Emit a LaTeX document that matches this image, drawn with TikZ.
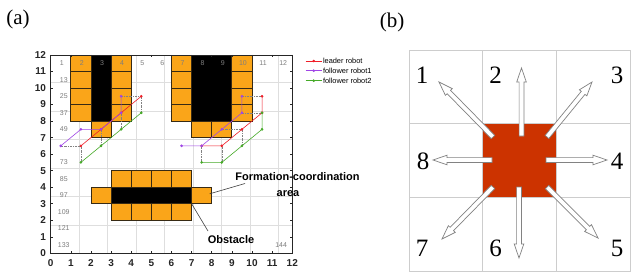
\documentclass[tikz,border=0pt]{standalone}
\usepackage{fontspec}
\setmainfont{Liberation Serif}
\setsansfont{Liberation Sans}
\usetikzlibrary{calc}
\definecolor{orng}{RGB}{250,165,25}
\definecolor{cellb}{RGB}{55,42,20}
\definecolor{leadc}{RGB}{240,30,40}
\definecolor{fonec}{RGB}{160,70,230}
\definecolor{ftwoc}{RGB}{70,170,40}
\definecolor{gridc}{RGB}{222,222,222}
\definecolor{axc}{RGB}{38,38,38}
\definecolor{numc}{RGB}{125,125,125}
\definecolor{redsq}{RGB}{204,51,0}
\definecolor{bgrid}{RGB}{205,205,205}
\definecolor{arrc}{RGB}{130,130,130}
\definecolor{connc}{RGB}{130,130,130}
\tikzset{
  cellbox/.style={fill=orng, draw=cellb, line width=0.8pt},
  blkbox/.style={fill=black, draw=cellb, line width=0.8pt},
  cellnum/.style={font=\sffamily\fontsize{7}{7}\selectfont, text=numc, inner sep=0pt},
  ticklab/.style={font=\sffamily\bfseries\fontsize{10}{10}\selectfont, text=axc, inner sep=0pt},
  leglab/.style={font=\sffamily\fontsize{7.4}{7.4}\selectfont, text=black, inner sep=0pt, anchor=west},
  annlab/.style={font=\sffamily\bfseries\fontsize{11}{11}\selectfont, inner sep=0pt},
  annline/.style={draw=black!75, line width=0.6pt},
  robotpath/.style={draw=#1, line width=0.6pt, mark=*, mark size=1pt, mark options={fill=#1, draw=#1}},
  connline/.style={draw=connc, line width=0.45pt, dash pattern=on 2pt off 1pt on 0.6pt off 1pt},
  panellab/.style={font=\fontsize{21}{21}\selectfont, inner sep=0pt},
  dirlab/.style={font=\fontsize{25}{25}\selectfont, inner sep=0pt},
  hollowarrow/.style={draw=arrc, fill=white, line width=0.7pt, line join=miter},
}
\newcommand\hollowarr[2]{%
  \coordinate (hb) at ($(#2)!14pt!(#1)$);
  \draw[hollowarrow] ($(#1)!2.4pt!90:(#2)$) -- ($(hb)!2.4pt!-90:(#1)$) -- ($(hb)!4.8pt!-90:(#1)$) -- (#2)
     -- ($(hb)!4.8pt!90:(#1)$) -- ($(hb)!2.4pt!90:(#1)$) -- ($(#1)!2.4pt!-90:(#2)$) -- cycle;}
\begin{document}
\begin{tikzpicture}[x=1pt, y=-1pt]
\useasboundingbox (0,0) rectangle (637,276);
\fill[white] (0,0) rectangle (637,276);
% ---------- panel labels
\node[panellab] (pa) at (18,19) {(a)};
\node[panellab] (pb) at (392,22) {(b)};
% ---------- panel (a)
\begin{scope}[shift={(50.7pt,-253.3pt)}, x=20.13pt, y=16.53pt]
  \draw[gridc, line width=0.5pt] (0,0) grid (12,12);
  % orange cells
  \foreach \yy in {8,...,11} {
    \draw[cellbox] (1,\yy) rectangle ++(1,1);
    \draw[cellbox] (3,\yy) rectangle ++(1,1);
    \draw[cellbox] (6,\yy) rectangle ++(1,1);
    \draw[cellbox] (9,\yy) rectangle ++(1,1);
  }
  \draw[cellbox] (2,7) rectangle ++(1,1);
  \draw[cellbox] (7,7) rectangle ++(1,1);
  \draw[cellbox] (8,7) rectangle ++(1,1);
  \foreach \xx in {3,...,6} {
    \draw[cellbox] (\xx,4) rectangle ++(1,1);
    \draw[cellbox] (\xx,2) rectangle ++(1,1);
  }
  \draw[cellbox] (2,3) rectangle ++(1,1);
  \draw[cellbox] (7,3) rectangle ++(1,1);
  \draw[blkbox] (2,8) rectangle (3,12);
  \draw[blkbox] (7,8) rectangle (9,12);
  \draw[blkbox] (3,3) rectangle (7,4);
  % cell numbers
  \foreach \n in {1,...,12} { \node[cellnum] (c\n) at (\n-0.45,11.5) {\n}; }
  \foreach \n/\yy in {13/10.5,25/9.5,37/8.5,49/7.5,73/5.5,85/4.5,97/3.5,109/2.5,121/1.5,133/0.5}
    { \node[cellnum] (c\n) at (0.65,\yy) {\n}; }
  \node[cellnum] (c144) at (11.45,0.5) {144};
  % frame and ticks
  \draw[axc, line width=0.6pt] (0,0) rectangle (12,12);
  \foreach \i in {0,...,12} {
    \draw[axc, line width=0.5pt] (\i,0) -- ++(0pt,2.5pt);
    \draw[axc, line width=0.5pt] (\i,12) -- ++(0pt,-2.5pt);
    \draw[axc, line width=0.5pt] (0,\i) -- ++(2.5pt,0pt);
    \draw[axc, line width=0.5pt] (12,\i) -- ++(-2.5pt,0pt);
    \node[ticklab] (xt\i) at ($(\i,0)+(0pt,-10pt)$) {\i};
    \node[ticklab, anchor=east] (yt\i) at ($(0,\i)+(-4.5pt,0pt)$) {\i};
  }
  % connectors
  \foreach \a/\b in {{0.5,6.5}/{1.5,6.5},{1.5,5.5}/{1.5,6.5},{2.5,6.5}/{2.5,7.5},{3.5,7.5}/{3.5,8.5},{4.5,8.5}/{4.5,9.5},{3.5,9.5}/{4.5,9.5},
     {7.5,5.5}/{7.5,6.5},{8.5,5.5}/{8.5,6.5},{9.5,6.5}/{9.5,7.5},{8.5,7.5}/{9.5,7.5},{9.5,8.5}/{10.5,8.5},{9.5,9.5}/{10.5,9.5}}
    { \draw[connline] (\a) -- (\b); }
  % robot paths
  \draw[robotpath=leadc] plot coordinates {(1.5,6.5) (2.5,7.5) (3.5,8.5) (4.5,9.5)};
  \draw[robotpath=leadc] plot coordinates {(7.5,6.5) (8.5,6.5) (9.5,7.5) (10.5,8.5) (10.5,9.5)};
  \draw[robotpath=fonec] plot coordinates {(0.5,6.5) (1.5,7.5) (2.5,7.5) (3.5,8.5) (3.5,9.5)};
  \draw[robotpath=fonec] plot coordinates {(6.5,6.5) (7.5,6.5) (8.5,7.5) (9.5,8.5) (9.5,9.5)};
  \draw[robotpath=ftwoc] plot coordinates {(1.5,5.5) (2.5,6.5) (3.5,7.5) (4.5,8.5)};
  \draw[robotpath=ftwoc] plot coordinates {(7.5,5.5) (8.5,5.5) (9.5,6.5) (10.5,7.5) (10.5,8.5)};
  \coordinate (fcarea) at (7.9,3.6);
  \coordinate (obscorner) at (7,3);
\end{scope}
% legend
\foreach \c/\yy/\t [count=\k] in {leadc/61/leader robot, fonec/70.7/follower robot1, ftwoc/80.7/follower robot2} {
  \coordinate (ls\k) at (305.7,\yy);
  \coordinate (le\k) at (321.7,\yy);
  \draw[robotpath=\c] plot coordinates {(313.7,\yy)};
  \draw[draw=\c, line width=0.6pt] (ls\k) -- (le\k);
  \node[leglab] (lt\k) at (322.8,\yy) {\t};
}
% annotations
\node[annlab] (fctext) at (297.5,177) {Formation-coordination};
\node[annlab] (areatext) at (288,193.5) {area};
\coordinate (fcstart) at (245,183.5);
\draw[annline] (fcstart) -- (fcarea);
\node[annlab] (obstext) at (231,239.5) {Obstacle};
\coordinate (obsend) at (208,231);
\draw[annline] (obscorner) -- (obsend);
% ---------- panel (b)
\draw[bgrid, line width=0.8pt] (409,50) rectangle (630,271);
\draw[bgrid, line width=0.8pt] (482.7,50) -- (482.7,271) (556.3,50) -- (556.3,271)
   (409,123.7) -- (630,123.7) (409,197.3) -- (630,197.3);
\node[fill=redsq, minimum width=73.6pt, minimum height=73.6pt, inner sep=0pt] (center) at (519.5,160.5) {};
\coordinate (s1) at (493,137); \coordinate (e1) at (439,82);
\coordinate (s2) at (521.5,136); \coordinate (e2) at (521.5,68);
\coordinate (s3) at (547,137); \coordinate (e3) at (592,82);
\coordinate (s4) at (546,160); \coordinate (e4) at (607,160);
\coordinate (s5) at (547,187); \coordinate (e5) at (598,238);
\coordinate (s6) at (519,187); \coordinate (e6) at (519,258);
\coordinate (s7) at (493,187); \coordinate (e7) at (442,239);
\coordinate (s8) at (492,160); \coordinate (e8) at (433,160);
\foreach \k in {1,...,8} { \hollowarr{s\k}{e\k} }
\node[dirlab] (d1) at (422,75) {1};
\node[dirlab] (d2) at (495.5,75) {2};
\node[dirlab] (d3) at (617,75) {3};
\node[dirlab] (d4) at (617,161) {4};
\node[dirlab] (d5) at (617,248) {5};
\node[dirlab] (d6) at (495.5,248) {6};
\node[dirlab] (d7) at (422,248) {7};
\node[dirlab] (d8) at (423,161) {8};
\end{tikzpicture}
\end{document}
